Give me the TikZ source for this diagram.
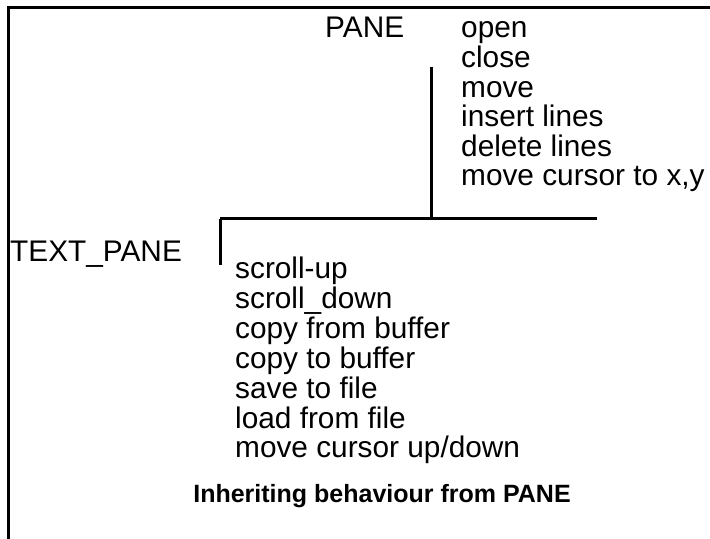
\documentclass[tikz,border=0pt]{standalone}
\usepackage{fontspec}
\setmainfont[Ligatures=NoCommon]{Liberation Sans}
\begin{document}
\begin{tikzpicture}[x=1bp,y=-1bp,
  frameline/.style={line width=3bp},
  treeline/.style={line width=3bp},
  lbl/.style={anchor=base west,inner sep=0pt,font=\fontsize{29.8bp}{30bp}\selectfont},
  captiontext/.style={anchor=base,inner sep=0pt,font=\fontsize{25bp}{26bp}\selectfont\bfseries}]
\useasboundingbox (0,0) rectangle (710,539);
% frame
\draw[frameline] (8,539) -- (8,8) -- (710,8);
% class names
\node[lbl] (pane) at (325,38) {PANE};
\node[lbl] (textpane) at (10,262) {TEXT\_PANE};
% PANE methods
\foreach \t [count=\i] in {open, close, move, insert lines, delete lines, {move cursor to x,y}}
  \node[lbl] (pm\i) at (461,{38+(\i-1)*29.6}) {\t};
% TEXT_PANE methods
\foreach \t [count=\i] in {scroll-up, scroll\_down, copy from buffer, copy to buffer, save to file, load from file, move cursor up/down}
  \node[lbl] (tm\i) at (235,{279+(\i-1)*29.8}) {\t};
% caption
\node[captiontext] (caption) at (382,502) {Inheriting behaviour from PANE};
% inheritance tree
\coordinate (ptop) at (431,67);
\coordinate (pjoin) at (431,219);
\coordinate (jleft) at (220,219);
\coordinate (jright) at (597,219);
\coordinate (tbot) at (220,265);
\draw[treeline] (ptop) -- (pjoin);
\draw[treeline] (jleft) -- (jright);
\draw[treeline] (jleft) -- (tbot);
\end{tikzpicture}
\end{document}
